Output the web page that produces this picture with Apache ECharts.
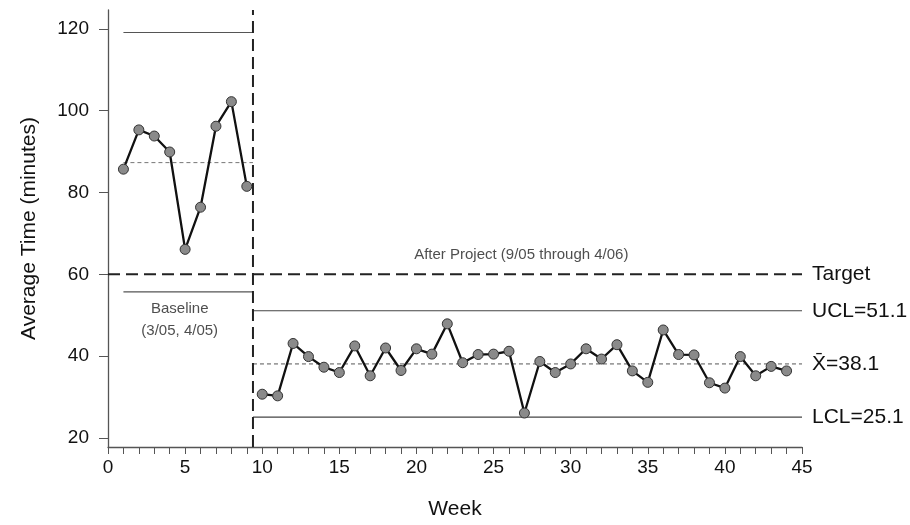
<!DOCTYPE html>
<html>
<head>
<meta charset="utf-8">
<script src="https://cdn.jsdelivr.net/npm/echarts@6/dist/echarts.min.js"></script>
<style>html,body{margin:0;padding:0;background:#fff}#c{width:910px;height:525px}</style>
</head>
<body>
<div id="c"></div>
<script>
// ---- data ----
const baselineWeeks = [1, 2, 3, 4, 5, 6, 7, 8, 9];
const baselineValues = [85.7, 95.3, 93.8, 89.9, 66.1, 76.4, 96.2, 102.2, 81.5];
const afterWeeks = [10,11,12,13,14,15,16,17,18,19,20,21,22,23,24,25,26,27,28,29,30,31,32,33,34,35,36,37,38,39,40,41,42,43,44];
const afterValues = [30.7,30.3,43.1,39.9,37.3,36.0,42.5,35.2,42.0,36.5,41.8,40.5,47.9,38.4,40.4,40.5,41.2,26.1,38.7,36.0,38.1,41.8,39.3,42.8,36.4,33.6,46.4,40.4,40.3,33.5,32.2,39.9,35.2,37.5,36.4];
const baselineUCL = 119.1, baselineMean = 87.3, baselineLCL = 55.7;
const targetValue = 60;
const afterUCL = 51.1, afterMean = 38.1, afterLCL = 25.1;
const splitWeek = 9.4;
const xTicks = [0, 5, 10, 15, 20, 25, 30, 35, 40, 45];
const yTicks = [20, 40, 60, 80, 100, 120];
const xRange = [0, 45];
const yRange = [17.8, 124.6];
const rightLabels = ['Target', 'UCL=51.1', 'X\u0304=38.1', 'LCL=25.1'];
const annotations = ['After Project (9/05 through 4/06)', 'Baseline\n(3/05, 4/05)'];
const annotationPos = [[26.8, 64.7], [4.65, 48.8]];

const FONT = 'Liberation Sans, Arial, Helvetica, sans-serif';
const zip = (xs, ys) => xs.map((x, i) => [x, ys[i]]);
const hline = (x0, x1, y) => [[x0, y], [x1, y]];

function refLine(name, data, style, label) {
  const s = {
    name, type: 'line', data, symbol: 'none', silent: true,
    lineStyle: style, z: 1, animation: false
  };
  if (label) {
    s.endLabel = { show: true, formatter: label, fontFamily: FONT, fontSize: 21, color: '#111', distance: 10 };
  }
  return s;
}

const dataStyle = {
  type: 'line', symbol: 'circle', symbolSize: 10,
  itemStyle: { color: '#8a8a8a', borderColor: '#333', borderWidth: 1 },
  lineStyle: { color: '#111', width: 2.3 }, z: 5, animation: false
};

const chart = echarts.init(document.getElementById('c'));
chart.setOption({
  backgroundColor: '#fff',
  animation: false,
  grid: { left: 108, right: 108, top: 10, bottom: 77 },
  xAxis: {
    type: 'value', min: xRange[0], max: xRange[1], interval: 5,
    name: 'Week', nameLocation: 'middle', nameGap: 52,
    nameTextStyle: { fontFamily: FONT, fontSize: 21, color: '#111' },
    axisLine: { lineStyle: { color: '#555', width: 1.3 } },
    axisTick: { show: true, length: 7, lineStyle: { color: '#555' }, customValues: xTicks },
    minorTick: { show: true, splitNumber: 5, length: 7, lineStyle: { color: '#555' } },
    axisLabel: { fontFamily: FONT, fontSize: 19, color: '#111', margin: 11, customValues: xTicks },
    splitLine: { show: false }
  },
  yAxis: {
    type: 'value', min: yRange[0], max: yRange[1],
    name: 'Average Time (minutes)', nameLocation: 'middle', nameGap: 68,
    nameTextStyle: { fontFamily: FONT, fontSize: 21, color: '#111' },
    axisLine: { show: true, lineStyle: { color: '#555', width: 1.3 } },
    axisTick: { show: true, length: 9, lineStyle: { color: '#555' }, customValues: yTicks },
    axisLabel: { fontFamily: FONT, fontSize: 19, color: '#111', margin: 19, customValues: yTicks },
    splitLine: { show: false }
  },
  series: [
    refLine('baseUCL', hline(baselineWeeks[0], splitWeek, baselineUCL), { color: '#555', width: 1.2 }),
    refLine('baseLCL', hline(baselineWeeks[0], splitWeek, baselineLCL), { color: '#555', width: 1.2 }),
    refLine('baseMean', hline(baselineWeeks[0], splitWeek, baselineMean), { color: '#777', width: 1, type: [4, 3] }),
    refLine('target', hline(xRange[0], xRange[1], targetValue), { color: '#222', width: 2, type: [12, 6] }, rightLabels[0]),
    refLine('ucl', hline(splitWeek, xRange[1], afterUCL), { color: '#444', width: 1.2 }, rightLabels[1]),
    refLine('mean', hline(splitWeek, xRange[1], afterMean), { color: '#555', width: 1, type: [4, 3] }, rightLabels[2]),
    refLine('lcl', hline(splitWeek, xRange[1], afterLCL), { color: '#444', width: 1.2 }, rightLabels[3]),
    refLine('split', [[splitWeek, yRange[0]], [splitWeek, yRange[1]]], { color: '#222', width: 2, type: [12, 6] }),
    Object.assign({ name: 'baseline', data: zip(baselineWeeks, baselineValues) }, dataStyle),
    Object.assign({ name: 'after', data: zip(afterWeeks, afterValues) }, dataStyle),
    {
      name: 'notes', type: 'scatter', symbol: 'circle', symbolSize: 1, silent: true, animation: false,
      itemStyle: { color: 'rgba(0,0,0,0)' },
      data: annotationPos,
      label: {
        show: true, position: 'inside', fontFamily: FONT, fontSize: 15, color: '#222', lineHeight: 22,
        formatter: p => annotations[p.dataIndex]
      }
    }
  ]
});
</script>
</body>
</html>
